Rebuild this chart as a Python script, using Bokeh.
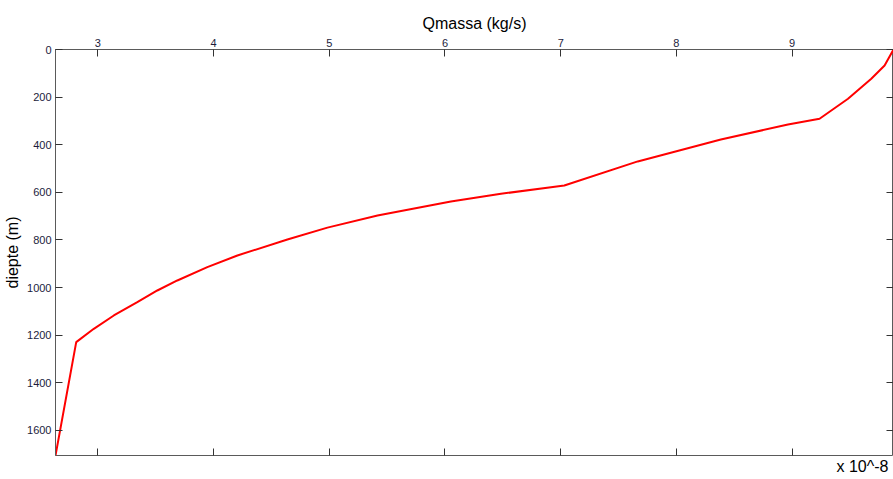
from bokeh.plotting import figure
from bokeh.models import Range1d, LinearAxis, FixedTicker, Title
from bokeh.embed import file_html
from bokeh.resources import INLINE

# Qmassa (x 10^-8 kg/s) and depth (m)
qmassa = [2.634, 2.813, 2.965, 3.138, 3.341, 3.514, 3.687, 3.946, 4.206, 4.638,
          4.984, 5.417, 6.051, 6.484, 6.916, 7.031, 7.666, 8.384,
          8.964, 9.237, 9.483, 9.684, 9.799, 9.876]
diepte = [1705, 1229, 1173, 1117, 1061, 1012, 970, 914, 865, 798,
          748, 697, 638, 606, 578, 571, 470, 378,
          315, 291, 207, 123, 67, 0]

x_ticks = [3, 4, 5, 6, 7, 8, 9]
y_ticks = [0, 200, 400, 600, 800, 1000, 1200, 1400, 1600]

FONT = "Liberation Sans"
AX = "#5a5a5a"
LBL = "#1c1c3c"

p = figure(width=893, height=474, output_backend="svg", toolbar_location=None,
           x_range=Range1d(2.634, 9.876), y_range=Range1d(1705, 0),
           x_axis_location="above", min_border_left=55, min_border_right=0,
           min_border_top=49, min_border_bottom=0)
p.grid.visible = False
p.outline_line_color = AX
p.background_fill_color = "white"
p.border_fill_color = "white"

def style(ax, ticks, labels=True):
    ax.ticker = FixedTicker(ticks=ticks)
    ax.major_tick_in = 7
    ax.major_tick_out = 0
    ax.minor_tick_line_color = None
    ax.axis_line_color = AX
    ax.major_tick_line_color = "#333333"
    ax.major_label_text_font = FONT
    ax.major_label_text_font_size = "11px"
    ax.major_label_text_color = LBL
    ax.axis_label_text_font = FONT
    ax.axis_label_text_font_style = "normal"
    ax.axis_label_text_font_size = "16px"
    ax.axis_label_text_color = "black"
    if not labels:
        ax.major_label_overrides = {t: "" for t in ticks}
        ax.major_label_standoff = 0
        ax.axis_line_color = None

xa = p.xaxis[0]
style(xa, x_ticks)
xa.axis_label = "Qmassa (kg/s)"
xa.major_label_standoff = 3
xa.axis_label_standoff = 4

ya = p.yaxis[0]
style(ya, y_ticks)
ya.axis_label = "diepte (m)"
ya.major_label_standoff = 4
ya.axis_label_standoff = 3

bx = LinearAxis()
style(bx, x_ticks, labels=False)
p.add_layout(bx, "below")

ry = LinearAxis()
style(ry, y_ticks, labels=False)
p.add_layout(ry, "right")

p.add_layout(Title(text="x 10^-8", align="right", text_font=FONT,
                   text_font_size="16px", text_font_style="normal",
                   text_color="black", standoff=0, offset=5), "below")

p.line(qmassa, diepte, line_color="red", line_width=2)

open("out.html", "w").write(file_html(p, INLINE))
